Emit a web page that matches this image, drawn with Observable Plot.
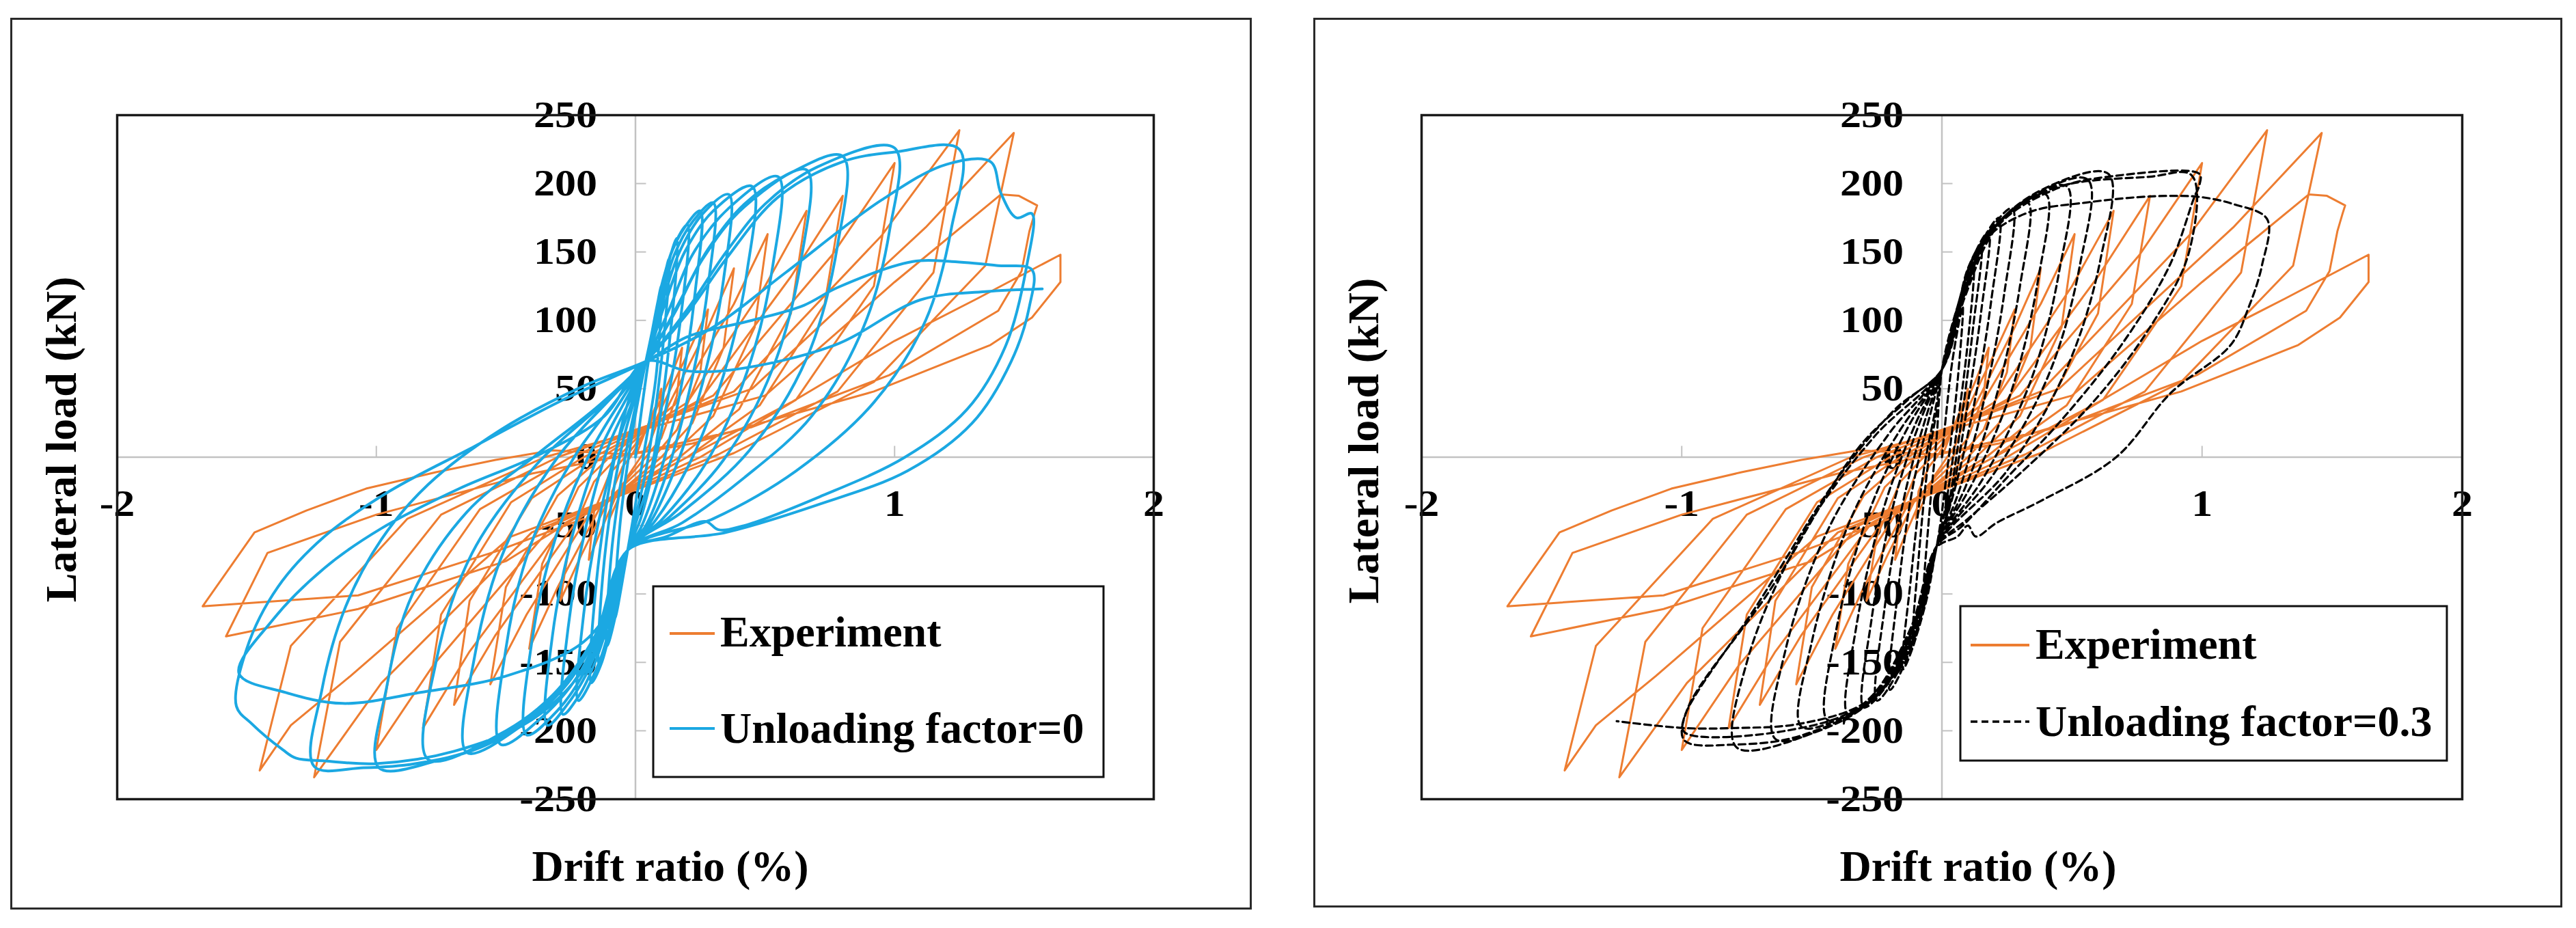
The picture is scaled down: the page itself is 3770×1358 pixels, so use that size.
<!DOCTYPE html>
<html>
<head>
<meta charset="utf-8">
<script src="https://cdn.jsdelivr.net/npm/d3@7"></script>
<script src="https://cdn.jsdelivr.net/npm/@observablehq/plot@0.6"></script>
<style>
  html, body { margin: 0; padding: 0; background: #fff; }
  #root { position: relative; width: 3770px; height: 1358px; overflow: hidden; background: #fff; }
  .panel { position: absolute; box-sizing: border-box; border: 3px solid #2a2a2a; }
  .plotbox { position: absolute; top: 0; width: 1885px; height: 1358px; }
  #overlay { position: absolute; left: 0; top: 0; }
  #overlay text { font-family: 'Liberation Serif', 'Times New Roman', serif; font-weight: bold; fill: #000; }
</style>
</head>
<body>
<div id="root">
  <div class="panel" style="left:15px; top:26px; width:1817px; height:1305px"></div>
  <div class="panel" style="left:1922px; top:26px; width:1828px; height:1302px"></div>
  <div id="plotL" class="plotbox" style="left:0px"></div>
  <div id="plotR" class="plotbox" style="left:1885px"></div>
</div>
<script>
// ---------- tick values ----------
const xTicks = [-2, -1, 0, 1, 2];
const yTicks = [-250, -200, -150, -100, -50, 0, 50, 100, 150, 200, 250];

// ---------- series names ----------
const seriesNames = ["Experiment", "Unloading factor=0", "Unloading factor=0.3"];
const axisTitles = ["Drift ratio (%)", "Lateral load (kN)"];

// ---------- Experiment (drift %, load kN) ----------
const expPoints = [
[0,0],[0.04,20],[0.08,38],[0.1,50],[0.09,28],[0.05,8],[0.02,0],[-0.03,-14],[-0.07,-32],[-0.1,-45],[-0.09,-25],[-0.05,-7],[-0.02,0],
[0.05,22],[0.13,56],[0.18,80],[0.16,45],[0.1,14],[0.04,0],[-0.06,-22],[-0.13,-52],[-0.18,-75],[-0.16,-40],[-0.1,-12],[-0.04,0],
[0.08,28],[0.2,75],[0.28,108],[0.25,62],[0.16,20],[0.07,0],[-0.1,-30],[-0.21,-72],[-0.29,-105],[-0.25,-58],[-0.16,-18],[-0.07,0],
[0.12,35],[0.28,95],[0.38,138],[0.34,80],[0.22,25],[0.1,0],[-0.14,-38],[-0.3,-95],[-0.41,-140],[-0.36,-78],[-0.22,-22],[-0.1,0],
[0.15,38],[0.38,112],[0.51,163],[0.46,95],[0.3,30],[0.13,0],[-0.18,-42],[-0.42,-115],[-0.56,-166],[-0.5,-95],[-0.3,-28],[-0.13,0],
[0.2,40],[0.5,125],[0.66,180],[0.6,105],[0.4,35],[0.17,0],[-0.22,-45],[-0.54,-130],[-0.7,-181],[-0.64,-105],[-0.4,-30],[-0.16,0],
[0.25,42],[0.6,132],[0.8,191],[0.73,112],[0.48,38],[0.2,0],[-0.27,-48],[-0.64,-142],[-0.82,-198],[-0.75,-115],[-0.48,-33],[-0.2,0],
[0.3,45],[0.76,148],[1.0,215],[0.92,125],[0.62,42],[0.25,0],[-0.32,-50],[-0.78,-152],[-1.0,-214],[-0.92,-125],[-0.6,-38],[-0.25,0],
[0.38,48],[0.95,162],[1.25,239],[1.15,135],[0.78,48],[0.32,2],[-0.4,-55],[-0.98,-165],[-1.24,-234],[-1.14,-135],[-0.75,-42],[-0.3,0],
[0.45,50],[1.12,168],[1.46,237],[1.35,140],[0.92,55],[0.38,3],[-0.48,-58],[-1.1,-160],[-1.33,-196],[-1.45,-229],[-1.33,-138],[-0.88,-45],[-0.35,0],
[0.5,45],[1.0,128],[1.41,192],[1.48,191],[1.55,184],[1.54,178],[1.52,165],[1.49,136],[1.4,107],[0.98,60],[0.45,22],[0,3],[-0.4,-12],[-1.0,-42],[-1.42,-70],[-1.58,-131],[-1.07,-111],[-0.5,-76],[-0.15,-35],
[0.2,0],[0.6,40],[1.0,85],[1.32,116],[1.64,148],[1.64,128],[1.53,102],[1.37,82],[0.92,48],[0.41,21],[0.22,10],[-0.02,2],[-0.32,5],[-0.54,-2],[-0.77,-11],[-1.04,-23],[-1.27,-39],[-1.47,-55],[-1.67,-109],[-1.07,-101],[-0.54,-69],[-0.2,-45]
];

// ---------- Model, unloading factor = 0 ----------
const uf0Points = [
[0,0],[0.05,70],[0.1,125],[0.08,60],[0.03,0],[-0.03,-68],[-0.08,-118],[-0.06,-50],[-0.01,20],[0.04,70],
[0.09,112],[0.13,145],[0.1,70],[0.04,-10],[-0.03,-68],[-0.07,-110],[-0.11,-138],[-0.09,-65],[-0.03,10],[0.04,70],
[0.1,122],[0.16,160],[0.13,82],[0.06,-10],[-0.03,-68],[-0.09,-120],[-0.14,-152],[-0.12,-75],[-0.05,10],[0.04,70],
[0.1,125],[0.15,155],[0.2,170],[0.17,95],[0.09,10],[0.02,-45],[-0.03,-68],[-0.09,-120],[-0.13,-150],[-0.17,-165],[-0.15,-90],[-0.08,0],[-0.02,45],[0.04,70],
[0.08,105],[0.13,145],[0.19,168],[0.25,180],[0.23,120],[0.17,45],[0.09,-15],[0.02,-52],[-0.03,-68],[-0.08,-110],[-0.14,-150],[-0.22,-178],[-0.2,-115],[-0.14,-45],[-0.06,15],[0.01,52],[0.04,70],
[0.09,108],[0.15,148],[0.22,172],[0.3,186],[0.28,125],[0.21,50],[0.12,-12],[0.04,-50],[-0.03,-68],[-0.09,-112],[-0.16,-152],[-0.22,-175],[-0.28,-188],[-0.26,-125],[-0.19,-50],[-0.1,10],[0,50],[0.04,70],
[0.1,110],[0.17,150],[0.26,178],[0.36,192],[0.34,130],[0.26,55],[0.15,-10],[0.05,-50],[-0.03,-68],[-0.1,-115],[-0.18,-155],[-0.26,-180],[-0.34,-196],[-0.32,-130],[-0.24,-55],[-0.13,8],[-0.02,48],[0.04,70],
[0.11,110],[0.19,150],[0.3,180],[0.45,198],[0.43,135],[0.34,60],[0.2,-8],[0.07,-48],[-0.03,-68],[-0.11,-118],[-0.2,-158],[-0.3,-185],[-0.42,-203],[-0.4,-135],[-0.31,-60],[-0.17,5],[-0.04,46],[0.04,70],
[0.13,108],[0.22,148],[0.36,182],[0.55,205],[0.53,140],[0.43,62],[0.27,-5],[0.1,-46],[-0.03,-68],[-0.12,-120],[-0.23,-162],[-0.36,-190],[-0.52,-210],[-0.5,-140],[-0.4,-62],[-0.23,2],[-0.06,45],[0.04,70],
[0.15,105],[0.26,145],[0.42,183],[0.66,210],[0.64,145],[0.53,65],[0.34,-2],[0.13,-44],[-0.03,-68],[-0.13,-122],[-0.26,-165],[-0.43,-195],[-0.65,-216],[-0.62,-145],[-0.5,-65],[-0.3,0],[-0.09,44],[0.04,70],
[0.16,110],[0.28,152],[0.42,185],[0.6,208],[0.8,220],[0.78,155],[0.66,72],[0.44,5],[0.18,-40],[-0.03,-68],[-0.14,-125],[-0.3,-170],[-0.5,-200],[-0.8,-221],[-0.77,-150],[-0.63,-70],[-0.38,-5],[-0.12,40],[0.04,70],
[0.2,108],[0.35,150],[0.5,185],[0.7,212],[1.0,226],[0.98,165],[0.88,95],[0.68,30],[0.42,-15],[0.18,-48],[-0.03,-68],[-0.15,-130],[-0.33,-178],[-0.55,-208],[-0.75,-221],[-0.99,-227],[-0.96,-168],[-0.86,-100],[-0.65,-40],[-0.38,2],[-0.14,38],[0.04,70],
[0.2,105],[0.35,145],[0.55,190],[0.8,216],[1.0,223],[1.25,225],[1.22,168],[1.12,100],[0.92,40],[0.62,-10],[0.3,-45],[-0.03,-68],[-0.16,-132],[-0.36,-182],[-0.6,-212],[-0.85,-224],[-1.05,-227],[-1.24,-226],[-1.21,-170],[-1.12,-110],[-0.98,-60],[-0.8,-20],[-0.52,20],[-0.2,52],[0.04,70],
[0.3,95],[0.58,135],[0.95,188],[1.2,214],[1.37,216],[1.41,193],[1.47,175],[1.53,178],[1.51,140],[1.43,82],[1.28,35],[1.04,0],[0.71,-29],[0.42,-50],[0.32,-53],[0.27,-47],[0.12,-58],[-0.03,-68],[-0.08,-108],[-0.2,-155],[-0.4,-192],[-0.7,-215],[-1.0,-224],[-1.2,-222],[-1.31,-220],[-1.36,-214],[-1.48,-195],[-1.54,-182],[-1.5,-140],[-1.38,-95],[-1.2,-58],[-0.95,-25],[-0.62,8],[-0.3,40],[0.04,70],
[0.2,88],[0.45,100],[0.65,111],[0.78,124],[1.07,143],[1.22,143],[1.4,140],[1.53,137],[1.52,110],[1.45,70],[1.3,25],[1.05,-10],[0.7,-35],[0.35,-55],[-0.03,-68],[-0.07,-100],[-0.2,-135],[-0.5,-160],[-0.83,-172],[-1.13,-180],[-1.35,-172],[-1.53,-158],[-1.4,-119],[-1.2,-81],[-0.98,-52],[-0.68,-23],[-0.37,2],[-0.12,30],[0.04,70],
[0.2,63],[0.38,64],[0.77,82],[1.1,115],[1.35,121],[1.57,123]
];

// ---------- Model, unloading factor = 0.3 ----------
const uf03Points = [
[0,0],[0.04,70],[0.08,110],[0.06,55],[0.02,-10],[-0.02,-65],[-0.07,-105],[-0.05,-45],[-0.02,15],[0,64],
[0.06,110],[0.12,140],[0.1,85],[0.05,10],[0.01,-40],[-0.02,-65],[-0.06,-105],[-0.11,-135],[-0.09,-75],[-0.05,0],[-0.01,45],[0,64],
[0.06,108],[0.1,138],[0.15,155],[0.12,95],[0.07,20],[0.02,-40],[-0.02,-65],[-0.07,-108],[-0.11,-138],[-0.15,-155],[-0.12,-90],[-0.07,-10],[-0.02,40],[0,64],
[0.06,108],[0.11,142],[0.18,165],[0.15,105],[0.09,28],[0.03,-35],[-0.02,-65],[-0.07,-108],[-0.13,-145],[-0.2,-170],[-0.17,-100],[-0.11,-20],[-0.04,35],[0,64],
[0.06,110],[0.12,145],[0.22,175],[0.19,115],[0.12,35],[0.04,-30],[-0.02,-65],[-0.08,-110],[-0.15,-150],[-0.25,-178],[-0.22,-110],[-0.14,-25],[-0.06,30],[0,64],
[0.06,110],[0.13,150],[0.27,182],[0.24,120],[0.16,40],[0.06,-28],[-0.02,-65],[-0.08,-112],[-0.17,-155],[-0.3,-183],[-0.27,-118],[-0.18,-30],[-0.08,28],[0,64],
[0.07,112],[0.15,155],[0.33,186],[0.3,125],[0.21,45],[0.09,-22],[-0.02,-65],[-0.09,-115],[-0.19,-160],[-0.36,-188],[-0.33,-125],[-0.22,-35],[-0.1,25],[0,64],
[0.07,112],[0.16,158],[0.27,180],[0.4,192],[0.37,130],[0.27,50],[0.12,-18],[-0.02,-65],[-0.09,-115],[-0.2,-163],[-0.3,-182],[-0.44,-192],[-0.41,-130],[-0.28,-40],[-0.13,22],[0,64],
[0.07,112],[0.17,160],[0.3,185],[0.48,198],[0.45,135],[0.34,55],[0.16,-15],[-0.02,-65],[-0.1,-118],[-0.22,-168],[-0.36,-188],[-0.54,-197],[-0.5,-135],[-0.35,-45],[-0.16,20],[0,64],
[0.08,115],[0.18,162],[0.34,190],[0.56,203],[0.53,140],[0.41,60],[0.2,-12],[-0.02,-65],[-0.1,-120],[-0.24,-172],[-0.42,-195],[-0.64,-206],[-0.6,-140],[-0.43,-50],[-0.2,18],[0,64],
[0.08,115],[0.19,165],[0.38,195],[0.64,207],[0.61,145],[0.48,65],[0.25,-10],[-0.02,-65],[-0.11,-122],[-0.26,-176],[-0.5,-202],[-0.79,-212],[-0.75,-150],[-0.54,-58],[-0.26,15],[0,64],
[0.08,115],[0.2,167],[0.42,196],[0.8,205],[0.96,206],[0.95,150],[0.8,95],[0.58,40],[0.3,-12],[0.1,-45],[-0.02,-65],[-0.12,-125],[-0.28,-178],[-0.55,-204],[-0.79,-210],[-0.99,-207],[-0.98,-185],[-0.66,-97],[-0.32,7],[-0.13,42],[0,64],
[0.09,118],[0.22,170],[0.45,197],[0.64,205],[0.99,207],[0.99,199],[0.97,190],[0.875,140],[0.69,82],[0.45,25],[0.25,-15],[0.08,-50],[-0.02,-65],[-0.12,-125],[-0.3,-180],[-0.6,-200],[-0.99,-201],[-0.99,-190],[-0.7,-105],[-0.4,-15],[-0.18,35],[0,64],
[0.06,110],[0.12,145],[0.2,165],[0.35,180],[0.55,186],[0.75,190],[0.9,191],[1.0,190],[1.12,185],[1.25,174],[1.23,140],[1.18,110],[1.11,82],[0.88,47],[0.67,0],[0.38,-32],[0.21,-48],[0.13,-58],[0.1,-50],[0.06,-58],[-0.02,-66],[-0.07,-110],[-0.15,-150],[-0.3,-180],[-0.55,-195],[-0.8,-198],[-0.99,-198],[-1.25,-193]
];

// ---------- styles ----------
const ORANGE = "#ED7D31";
const BLUE = "#1BA8E2";
const GRID = "#c2c2c2";
const FONT = "'Liberation Serif', 'Times New Roman', serif";

function makePanel(modelPoints, modelStyle, marginLeft, marginRight) {
  const tickFont = {fontFamily: FONT, fontWeight: "bold", fontSize: 54, fill: "#000"};
  return Plot.plot({
    width: 1885,
    height: 1358,
    marginLeft, marginRight,
    marginTop: 168,
    marginBottom: 189,
    x: {domain: [-2, 2], axis: null},
    y: {domain: [-250, 250], axis: null},
    style: {background: "transparent", overflow: "visible", maxWidth: "none"},
    marks: [
      Plot.ruleY([0], {stroke: GRID, strokeWidth: 2.5}),
      Plot.ruleX([0], {stroke: GRID, strokeWidth: 2.5}),
      Plot.ruleY(yTicks, {x1: 0, x2: 0.042, stroke: GRID, strokeWidth: 2}),
      Plot.ruleX(xTicks, {y1: 0, y2: 8, stroke: GRID, strokeWidth: 2}),
      Plot.text(yTicks, {x: 0, y: d => d, text: d => String(d), textAnchor: "end", dx: -56, ...tickFont}),
      Plot.text(xTicks, {x: d => d, y: 0, text: d => String(d), dy: 69, ...tickFont}),
      Plot.frame({stroke: "#1a1a1a", strokeWidth: 3.5}),
      Plot.line(expPoints, {x: d => d[0], y: d => d[1], stroke: ORANGE, strokeWidth: 3, strokeLinejoin: "round"}),
      Plot.line(modelPoints, {x: d => d[0], y: d => d[1], strokeLinejoin: "round", curve: "catmull-rom", ...modelStyle})
    ]
  });
}

const left = makePanel(uf0Points, {stroke: BLUE, strokeWidth: 4}, 171, 197);
const right = makePanel(uf03Points, {stroke: "#000", strokeWidth: 3.2, strokeDasharray: "10,6"}, 195, 167);
document.getElementById("plotL").appendChild(left);
document.getElementById("plotR").appendChild(right);

// widen the tick labels like the reference's stretched digits
for (const svg of [left, right]) {
  svg.querySelectorAll("text").forEach(t => {
    const w = t.getComputedTextLength();
    t.setAttribute("textLength", (w * 1.15).toFixed(1));
    t.setAttribute("lengthAdjust", "spacingAndGlyphs");
  });
}

// ---------- overlay: titles and legends ----------
const NS = "http://www.w3.org/2000/svg";
const ov = d3.select("#root").append("svg").attr("id", "overlay")
  .attr("width", 3770).attr("height", 1358).attr("xmlns", NS);

function addTitles(cx, ylabX, ylabY) {
  ov.append("text").attr("x", cx).attr("y", 1289).attr("text-anchor", "middle")
    .attr("font-size", 64).text(axisTitles[0]);
  ov.append("text").attr("transform", `translate(${ylabX},${ylabY}) rotate(-90)`)
    .attr("text-anchor", "middle").attr("font-size", 64).text(axisTitles[1]);
}
addTitles(981, 111, 643);
addTitles(2895, 2017, 645);

function addLegend(box, rows) {
  ov.append("rect").attr("x", box.x).attr("y", box.y).attr("width", box.w).attr("height", box.h)
    .attr("fill", "#fff").attr("stroke", "#111").attr("stroke-width", 3);
  rows.forEach(r => {
    ov.append("line").attr("x1", r.lx1).attr("x2", r.lx2).attr("y1", r.ly).attr("y2", r.ly)
      .attr("stroke", r.color).attr("stroke-width", r.width).attr("stroke-dasharray", r.dash || null);
    ov.append("text").attr("x", r.tx).attr("y", r.ty).attr("font-size", 64).text(r.label);
  });
}
addLegend({x: 956, y: 858, w: 659, h: 279}, [
  {lx1: 980, lx2: 1046, ly: 927, color: ORANGE, width: 4, tx: 1054, ty: 946, label: seriesNames[0]},
  {lx1: 980, lx2: 1046, ly: 1066, color: BLUE, width: 4, tx: 1054, ty: 1087, label: seriesNames[1]}
]);
addLegend({x: 2869, y: 887, w: 712, h: 226}, [
  {lx1: 2884, lx2: 2970, ly: 944, color: ORANGE, width: 4, tx: 2979, ty: 964, label: seriesNames[0]},
  {lx1: 2884, lx2: 2970, ly: 1056, color: "#000", width: 3.5, dash: "10,6", tx: 2979, ty: 1077, label: seriesNames[2]}
]);
</script>
</body>
</html>
